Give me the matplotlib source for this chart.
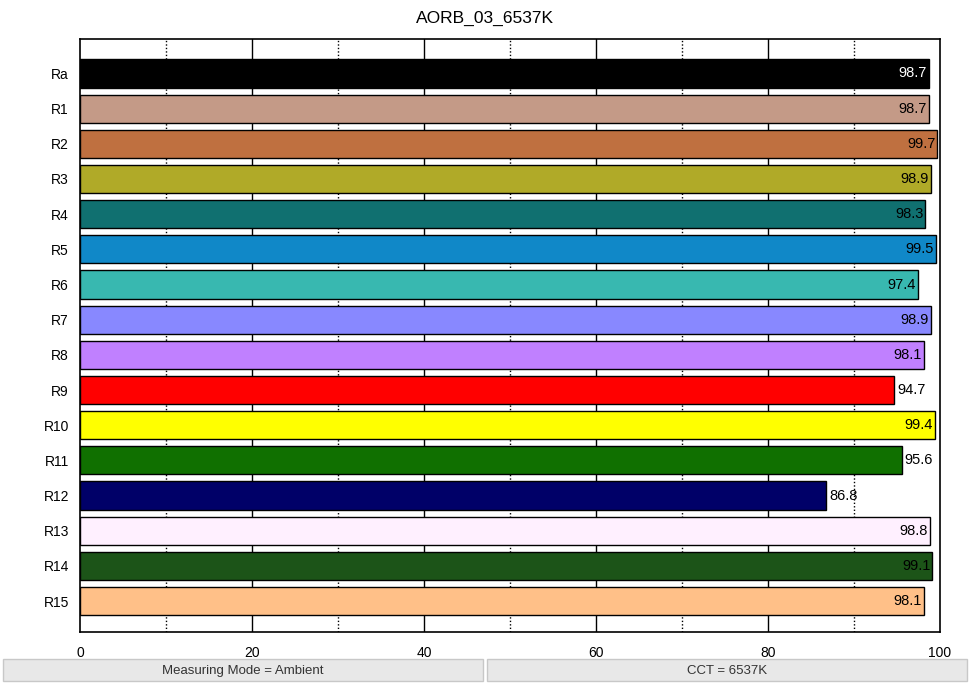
"""CRI bar chart: Ra and R1..R15 for one measurement."""

import matplotlib

matplotlib.use("Agg")
import matplotlib.pyplot as plt
from matplotlib.patches import Rectangle

title = "AORB_03_6537K"
labels = ["Ra", "R1", "R2", "R3", "R4", "R5", "R6", "R7",
          "R8", "R9", "R10", "R11", "R12", "R13", "R14", "R15"]
values = [98.7, 98.7, 99.7, 98.9, 98.3, 99.5, 97.4, 98.9,
          98.1, 94.7, 99.4, 95.6, 86.8, 98.8, 99.1, 98.1]
colors = ["#000000", "#c49a87", "#bf7040", "#b0aa28", "#107070", "#1088c8",
          "#38b8b0", "#8888ff", "#c080ff", "#ff0000", "#ffff00", "#107000",
          "#000068", "#fff0ff", "#1c5418", "#ffc088"]
footer = ["Measuring Mode = Ambient", "CCT = 6537K"]

plt.rcParams["font.family"] = ["Liberation Sans", "DejaVu Sans"]

fig = plt.figure(figsize=(9.7, 6.83), dpi=100)
axis = fig.add_axes([80 / 970, 1 - 632 / 683, 860 / 970, 593 / 683])

positions = list(range(len(labels)))
axis.barh(positions, values, height=0.8, color=colors, edgecolor="black",
          linewidth=1.0, zorder=3)

for pos, val in zip(positions, values):
    text_color = "white" if pos == 0 else "black"
    if val < 96:
        axis.text(val + 0.3, pos, f"{val:.1f}", ha="left", va="center",
                  fontsize=10.5, color="black", zorder=4)
    else:
        axis.text(val - 0.2, pos, f"{val:.1f}", ha="right", va="center",
                  fontsize=10.5, color=text_color, zorder=4)

axis.set_xlim(0, 100)
axis.set_ylim(15.88, -0.98)
axis.set_yticks(positions)
axis.set_yticklabels(labels, fontsize=10)
axis.set_xticks([0, 20, 40, 60, 80, 100])
axis.tick_params(axis="both", length=0, labelsize=10)
axis.tick_params(axis="x", pad=10)
axis.tick_params(axis="y", pad=8)

for x in [20, 40, 60, 80]:
    axis.axvline(x, color="black", linewidth=1.0, zorder=1)
for x in [10, 30, 50, 70, 90]:
    axis.axvline(x, color="black", linewidth=1.0, linestyle=(0, (1, 1.5)), zorder=1)

for spine in axis.spines.values():
    spine.set_linewidth(1.2)

fig.text(0.5, 1 - 18 / 683, title, ha="center", va="center", fontsize=12.5)

# footer boxes in pixel coords of the figure
for i, txt in enumerate(footer):
    x0 = 3 + i * 484
    box = Rectangle((x0 / 970, 1 - 681 / 683), 480 / 970, 22 / 683,
                    transform=fig.transFigure, facecolor="#e8e8e8",
                    edgecolor="#c8c8c8", linewidth=1.0)
    fig.patches.append(box)
    fig.text((x0 + 240) / 970, 1 - 671 / 683, txt, ha="center", va="center",
             fontsize=9.5, color="#333333")

fig.savefig("out.png", dpi=100)
